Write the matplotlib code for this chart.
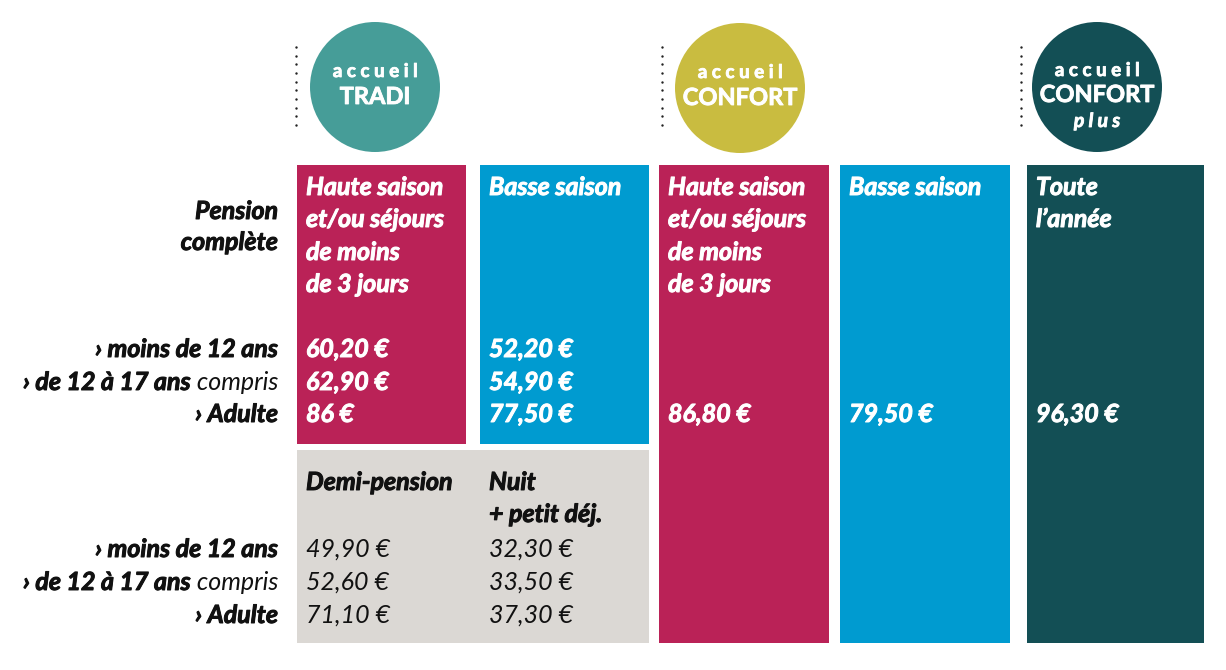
import matplotlib
matplotlib.use('Agg')
import matplotlib.pyplot as plt
import matplotlib.patheffects as pe
from matplotlib.patches import Rectangle, Circle
import numpy as np

plt.rcParams['font.family'] = ['Lato', 'DejaVu Sans']

# --- data ---
offer_top = ['a c c u e i l'] * 3
offer_names = ['TRADI', 'CONFORT', 'CONFORT']
offer_extra = ['', '', 'p l u s']

col_headers = [
    ['Haute saison', 'et/ou séjours', 'de moins', 'de 3 jours'],
    ['Basse saison'],
    ['Haute saison', 'et/ou séjours', 'de moins', 'de 3 jours'],
    ['Basse saison'],
    ['Toute', 'l\u2019année'],
]
age_labels = ['› moins de 12 ans', '› de 12 à 17 ans', '› Adulte']
age_suffix = ['', ' compris', '']

tradi_haute = ['60,20 €', '62,90 €', '86 €']
tradi_basse = ['52,20 €', '54,90 €', '77,50 €']
confort_haute = ['86,80 €']
confort_basse = ['79,50 €']
confort_plus = ['96,30 €']
demi_pension = ['49,90 €', '52,60 €', '71,10 €']
nuit_petit_dej = ['32,30 €', '33,50 €', '37,30 €']

# --- layout / style ---
CRIMSON = '#ba2257'
BLUE = '#009bd0'
DARK = '#134f55'
GREY = '#dbd8d4'
INK = '#111111'
circle_colors = ['#469d98', '#c9bc40', '#134f55']
circle_x = [375, 740, 1097]
circle_y = [87, 88, 87]
dots_x = [296, 662, 1021]

col_left = [297, 480, 659, 840, 1027]
col_right = [466, 649, 829, 1010, 1204]
col_bottom = [444, 444, 643, 643, 643]
col_colors = [CRIMSON, BLUE, CRIMSON, BLUE, DARK]
text_pad = 9

header_base = [195, 227, 260, 292]
price_base = [357, 390, 422]
low_price_base = [557, 590, 623]
FS = 18


def bold(color):
    # heavier look than plain Lato Bold
    return dict(fontsize=FS, fontweight='bold', style='italic', va='baseline', color=color,
                path_effects=[pe.withStroke(linewidth=0.7, foreground=color)])


fig = plt.figure(figsize=(12.26, 6.70), dpi=100)
ax = fig.add_axes([0, 0, 1, 1])
ax.set_xlim(0, 1226)
ax.set_ylim(670, 0)
ax.axis('off')

# circles
for i in range(3):
    ax.add_patch(Circle((circle_x[i], circle_y[i]), 65, color=circle_colors[i], lw=0))
    ax.scatter(np.full(10, dots_x[i]), np.linspace(47, 125, 10), s=3, color='#222222', lw=0)
    cx, cy = circle_x[i], circle_y[i]
    if offer_extra[i]:
        ys = [cy - 11, cy + 15, cy + 40]
    else:
        ys = [cy - 10, cy + 17, None]
    stroke = [pe.withStroke(linewidth=0.6, foreground='white')]
    ax.text(cx, ys[0], offer_top[i], color='white', fontsize=13.5, fontweight='bold',
            ha='center', va='baseline', path_effects=stroke)
    ax.text(cx, ys[1], offer_names[i], color='white', fontsize=17, fontweight='bold',
            ha='center', va='baseline', path_effects=stroke)
    if offer_extra[i]:
        ax.text(cx, ys[2], offer_extra[i], color='white', fontsize=14, fontweight='bold',
                style='italic', ha='center', va='baseline', path_effects=stroke)

# columns
for i in range(5):
    ax.add_patch(Rectangle((col_left[i], 165), col_right[i] - col_left[i], col_bottom[i] - 165,
                           color=col_colors[i], lw=0))
    for j, line in enumerate(col_headers[i]):
        ax.text(col_left[i] + text_pad, header_base[j], line, ha='left', **bold('white'))

# grey box
ax.add_patch(Rectangle((297, 450), 649 - 297, 643 - 450, color=GREY, lw=0))

# prices in coloured columns
for j in range(3):
    ax.text(col_left[0] + text_pad, price_base[j], tradi_haute[j], **bold('white'))
    ax.text(col_left[1] + text_pad, price_base[j], tradi_basse[j], **bold('white'))
for k, vals in zip([2, 3, 4], [confort_haute, confort_basse, confort_plus]):
    ax.text(col_left[k] + text_pad, price_base[2], vals[0], **bold('white'))

# lower grey box
ax.text(col_left[0] + text_pad, 490, 'Demi-pension', **bold(INK))
ax.text(col_left[1] + text_pad, 490, 'Nuit', **bold(INK))
ax.text(col_left[1] + text_pad, 522, '+ petit déj.', **bold(INK))
for j in range(3):
    ax.text(col_left[0] + text_pad, low_price_base[j], demi_pension[j], color=INK,
            fontsize=FS, style='italic', va='baseline')
    ax.text(col_left[1] + text_pad, low_price_base[j], nuit_petit_dej[j], color=INK,
            fontsize=FS, style='italic', va='baseline')

# left labels
ax.text(278, 219, 'Pension', ha='right', **bold(INK))
ax.text(278, 250, 'complète', ha='right', **bold(INK))

fig.canvas.draw()
renderer = fig.canvas.get_renderer()
inv = ax.transData.inverted()
for bases in [price_base, low_price_base]:
    for j in range(3):
        x_right = 278
        if age_suffix[j]:
            t = ax.text(x_right, bases[j], age_suffix[j], color=INK, fontsize=FS,
                        style='italic', fontweight='normal', ha='right', va='baseline')
            bb = t.get_window_extent(renderer)
            x_right = inv.transform((bb.x0, bb.y0))[0]
        ax.text(x_right, bases[j], age_labels[j], ha='right', **bold(INK))

fig.savefig('out.png', dpi=100, facecolor='white')
